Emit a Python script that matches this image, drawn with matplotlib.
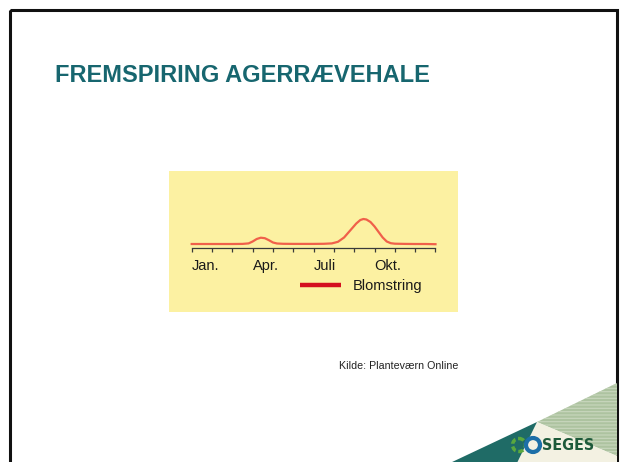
import matplotlib
matplotlib.use("Agg")
import matplotlib.pyplot as plt
from matplotlib.patches import Rectangle, Polygon, Circle

# ---- data ----
months = [0, 0.5, 1, 1.5, 2, 2.5, 2.8, 3.0, 3.2, 3.4, 3.6, 3.8, 4.0, 4.2, 4.5,
          5, 5.5, 6, 6.5, 6.9, 7.2, 7.5, 7.8, 8.1, 8.3, 8.45, 8.6, 8.8, 9.0,
          9.2, 9.4, 9.6, 9.8, 10, 10.5, 11, 11.5, 12]
emergence = [0, 0, 0, 0, 0, 0.1, 0.6, 2.5, 5.0, 6.3, 5.8, 3.8, 1.5, 0.5, 0.2,
             0.1, 0.1, 0.1, 0.2, 0.6, 2.2, 6.5, 13.5, 20.5, 24.0, 25.0, 24.5, 22.0, 17.5,
             12.0, 6.5, 2.5, 0.8, 0.3, 0.1, 0.0, 0.0, -0.2]
tick_positions = list(range(13))
tick_labels = ["Jan.", "", "", "Apr.", "", "", "Juli", "", "", "Okt.", "", "", ""]
legend_label = "Blomstring"
title = "FREMSPIRING AGERRÆVEHALE"
source = "Kilde: Planteværn Online"

W, H = 622, 462
fig = plt.figure(figsize=(W / 100, H / 100), dpi=100)
fig.patch.set_facecolor("white")
plt.rcParams["hatch.linewidth"] = 0.8

# overlay axes in pixel coordinates
ov = fig.add_axes([0, 0, 1, 1])
ov.set_xlim(0, W)
ov.set_ylim(H, 0)
ov.axis("off")

# slide border
ov.add_patch(Rectangle((9.5, 9.5), 607, 470, fill=False, edgecolor="#111111", lw=2.2, zorder=1))

# title
ov.text(55, 75, title, fontsize=17, fontweight="bold", color="#17666f",
        family="Liberation Sans", va="center", ha="left")

# chart background
ov.add_patch(Rectangle((169, 171), 289, 141, facecolor="#fcf1a2", edgecolor="none", zorder=1))

# legend
ov.plot([300, 341], [285, 285], color="#d4101e", lw=3.2, solid_capstyle="butt", zorder=3)
ov.text(353, 286, legend_label, fontsize=10.5, color="#1a1a1a", family="Liberation Sans",
        va="center", ha="left", zorder=3)

# source
ov.text(339, 366, source, fontsize=7.7, color="#222222", family="Liberation Sans",
        va="center", ha="left")

# decorative corner (logo)
ov.add_patch(Polygon([(617, 383), (537, 422), (617, 456)], closed=True,
                     facecolor="#adc3a0", edgecolor="#c8d7be", lw=0, hatch="-----", zorder=2))
ov.add_patch(Polygon([(537, 422), (517, 463), (617, 463), (617, 456)], closed=True,
                     facecolor="#f3f1e2", edgecolor="none", zorder=2))
ov.add_patch(Polygon([(450, 463), (537, 422), (517, 463)], closed=True,
                     facecolor="#1f6b66", edgecolor="none", zorder=2))
ov.add_patch(Circle((519, 445), 6.5, facecolor="none", edgecolor="#5aa83e", lw=2.5,
                    linestyle=(0, (1.5, 0.8)), zorder=3))
ov.add_patch(Circle((533, 445), 7, facecolor="none", edgecolor="#1c6fa8", lw=3, zorder=3))
ov.text(542, 446, "SEGES", fontsize=11.5, fontweight="bold", color="#1e5a3a",
        family="DejaVu Sans", fontstretch="condensed", va="center", ha="left", zorder=3)

# chart axes
x0, x1 = 191.7, 435.5
ybot, ytop = 248, 214
ax = fig.add_axes([x0 / W, (H - ybot) / H, (x1 - x0) / W, (ybot - ytop) / H])
ax.patch.set_alpha(0)
ax.set_xlim(0, 12)
ax.set_ylim(-4, 30)
ax.plot(months, emergence, color="#f0604a", lw=1.6, solid_joinstyle="round", clip_on=False)
for s in ["top", "left", "right"]:
    ax.spines[s].set_visible(False)
ax.spines["bottom"].set_color("#3a3a3a")
ax.spines["bottom"].set_linewidth(0.9)
ax.set_yticks([])
ax.set_xticks(tick_positions)
ax.set_xticklabels(tick_labels, fontsize=10.5, family="Liberation Sans", color="#1a1a1a")
for lab in ax.get_xticklabels():
    lab.set_horizontalalignment("left")
ax.tick_params(axis="x", direction="out", length=3, width=0.9, color="#3a3a3a", pad=5)

fig.savefig("out.png", dpi=100)
